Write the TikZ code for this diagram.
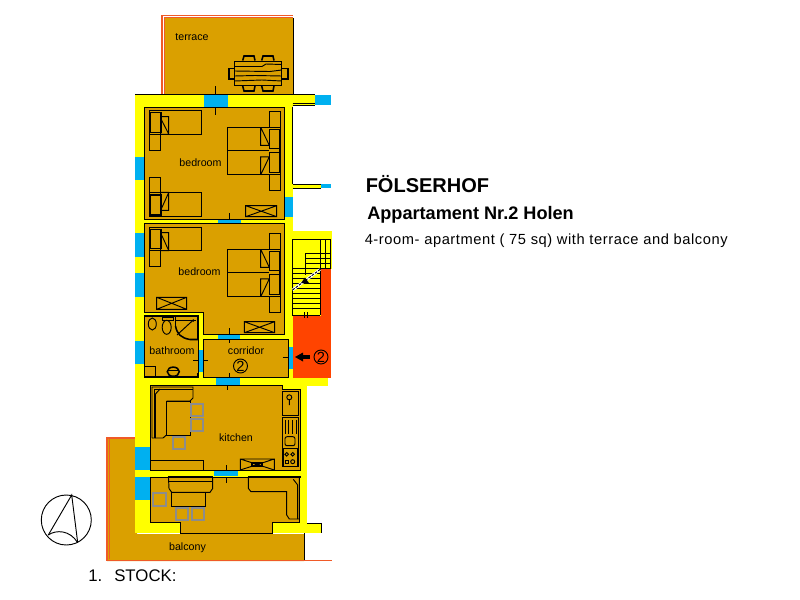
\documentclass[tikz,border=0pt]{standalone}
\usepackage{fontspec}
\setmainfont{Liberation Sans}
\newfontfamily\descfont[LetterSpace=4]{Liberation Sans}
\definecolor{gold}{HTML}{DAA000}
\definecolor{wall}{HTML}{FFFF00}
\definecolor{glass}{HTML}{00B0F0}
\definecolor{stairred}{HTML}{FF4400}
\definecolor{edge}{HTML}{F05A28}
\definecolor{chair}{HTML}{8C8C8C}
\tikzset{
  ln/.style={draw=black,line width=0.7pt},
  thk/.style={draw=black,line width=1.15pt},
  grayb/.style={draw=chair,line width=1.1pt},
  red2/.style={draw=edge,line width=0.8pt},
  room/.style={font=\fontsize{8}{8}\selectfont,anchor=base,inner sep=0pt},
  digit/.style={font=\fontsize{11}{11}\selectfont,anchor=base,inner sep=0pt},
  head/.style={anchor=base west,inner sep=0pt},
}
\newcommand{\xmark}[4]{\draw[ln] (#1,#2) rectangle (#3,#4) (#1,#2) -- (#3,#4) (#1,#4) -- (#3,#2);}
\newcommand{\doublebed}[1]{%
  \draw[ln] (227.3,#1) rectangle (280.3,#1+47.5);
  \draw[ln] (227.3,#1+23.5) -- (269.3,#1+23.5);
  \draw[thk] (269.3,#1+2) rectangle (280,#1+21);
  \draw[thk] (269.3,#1+25) rectangle (280,#1+45);
  \draw[ln] (260.7,#1) -- (260.7,#1+18) -- (269.3,#1+18) (260.7,#1) -- (269.3,#1+18);
  \draw[ln] (260.7,#1+47.5) -- (260.7,#1+29.5) -- (269.3,#1+29.5) (260.7,#1+47.5) -- (269.3,#1+29.5);
  \draw[thk] (280,#1+18) -- (280,#1+30);
  \draw[ln] (269.3,#1-16) rectangle (280.3,#1);
  \draw[ln] (269.3,#1+47.5) rectangle (280.3,#1+63);}
\begin{document}
\begin{tikzpicture}[x=0.75pt,y=-0.75pt]
\useasboundingbox (0,0) rectangle (800,600);
% ---------- outdoor areas
\fill[gold] (164,17) rectangle (293,95);
\fill[gold] (107,438) -- (137,438) -- (137,534) -- (304,534) -- (304,561) -- (107,561) -- cycle;
% ---------- walls
\fill[wall] (135,94.5) rectangle (292.5,386);
\fill[wall] (292,94.5) rectangle (316,105);
\fill[wall] (292,184) rectangle (321,188);
\fill[wall] (292,231) rectangle (331.5,269);
\fill[wall] (292,269) rectangle (321,316);
\fill[wall] (135,377) rectangle (328,386);
\fill[wall] (135,386) rectangle (307.3,533);
\fill[wall] (272,522.5) rectangle (321.5,533);
% ---------- red stair landing
\fill[stairred] (292.5,316) rectangle (331,377.5);
\fill[stairred] (321,269) rectangle (331,316);
% ---------- rooms
\path[fill=gold,ln] (144,107) -- (284,107) -- (284,219.5) -- (144,219.5) -- cycle;
\path[fill=gold,ln] (144,223) -- (284,223) -- (284,334) -- (203,334) -- (203,312) -- (144,312) -- cycle;
\path[fill=gold,ln] (144,316) rectangle (198,377);
\path[fill=gold,ln] (203,339) rectangle (288,377);
\path[fill=gold,ln] (150,385) -- (282,385) -- (282,389) -- (300.7,389) -- (300.7,470) -- (150,470) -- cycle;
\path[fill=gold,ln] (150,477) -- (299.5,477) -- (299.5,522.5) -- (272,522.5) -- (272,533) -- (180,533) -- (180,522.5) -- (150,522.5) -- cycle;
% ---------- windows and doors
\fill[glass] (204,94.5) rectangle (227.5,107);
\fill[glass] (315,94.5) rectangle (331,105);
\fill[glass] (321,184) rectangle (331,188);
\fill[glass] (135,157) rectangle (143.7,180);
\fill[glass] (284.5,197) rectangle (292.5,217);
\fill[glass] (218,219.5) rectangle (241,223);
\fill[glass] (135,233) rectangle (143.7,257);
\fill[glass] (135,273) rectangle (143.7,297);
\fill[glass] (135,341) rectangle (143.7,364);
\fill[glass] (218,334.5) rectangle (240,338.5);
\fill[glass] (198.5,350) rectangle (202.5,372);
\fill[glass] (288.5,347) rectangle (292.5,369);
\fill[glass] (216,377.5) rectangle (240,385);
\fill[glass] (135,447) rectangle (149.7,470);
\fill[glass] (135,477) rectangle (149.7,500);
\fill[glass] (214,470.5) rectangle (238,476);
% ---------- outdoor edges
\draw[red2] (162,94) -- (162,15.5) -- (293,15.5);
\draw[red2] (164.5,94) -- (164.5,17.5) -- (293,17.5);
\draw[ln] (293,18) -- (293,94);
\draw[ln] (135,94.5) -- (315,94.5);
\draw[ln] (292.5,107) -- (292.5,184) (292.5,188) -- (321,188) (292.5,184) -- (321,184);
\draw[ln] (292.5,103) -- (315,103) (292.5,105) -- (315,105);
\draw[red2,line width=1pt] (135,438) -- (107,438) -- (107,560.5) -- (332,560.5);
\draw[edge,line width=0.5pt] (109,438.5) -- (109,559);
\draw[ln] (304.3,533) -- (304.3,560);
\draw[ln] (307.3,523.3) -- (321.7,523.3) -- (321.7,533);
% ---------- door ticks
\draw[ln] (215.3,86) -- (215.3,94) (215.3,107) -- (215.3,115);
\draw[ln] (229.3,213) -- (229.3,219.5) (229.3,328) -- (229.3,334) (229.3,339) -- (229.3,343) (229.3,373) -- (229.3,377);
\draw[ln] (193,360.7) -- (198,360.7) (203,360.7) -- (208,360.7) (282.7,357) -- (288,357);
\draw[ln] (227.3,385) -- (227.3,390) (226.7,465) -- (226.7,470) (226.7,477) -- (226.7,483);
% ---------- terrace table
\draw[ln] (234.3,61) rectangle (281.7,85.7);
\draw[ln] (234.3,66.5) -- (262,66.5) -- (266,64) -- (281.7,64.5);
\draw[ln] (234.3,71) -- (270,71.5) -- (281.7,70);
\draw[ln] (234.3,76) -- (255,75.5) -- (281.7,76);
\draw[ln] (234.3,81) -- (262,80) -- (281.7,81);
\draw[thk] (242.7,60.5) -- (244,56) -- (254,56) -- (255,60.5);
\draw[thk] (261.7,60.5) -- (263,56) -- (273,56) -- (274,60.5);
\draw[thk] (242.7,86) -- (244,91) -- (254,91) -- (255,86);
\draw[thk] (261.7,86) -- (263,91) -- (273,91) -- (274,86);
\draw[thk] (234,68.5) -- (229,68.5) -- (229,79) -- (234,79);
\draw[thk] (282,68.5) -- (288,68.5) -- (288,79) -- (282,79);
% ---------- bedroom 1
\draw[ln] (149.3,110.3) rectangle (201.7,134.3);
\draw[thk] (150,112.3) rectangle (161,132.3);
\draw[ln] (160.7,116.7) rectangle (168.7,134.3) (160.7,118.3) -- (168.7,134);
\draw[ln] (149.3,134.3) rectangle (160,150.3);
\draw[ln] (149.3,192.3) rectangle (201.7,216.7);
\draw[thk] (150,195) rectangle (161,215);
\draw[ln] (160.7,192.3) rectangle (168.7,210.3) (160.7,210.3) -- (168.7,192.5);
\draw[ln] (149.3,177.3) rectangle (160,192.3);
\doublebed{127.3}
\xmark{245.7}{205.7}{276.7}{216.7}
% ---------- bedroom 2
\draw[ln] (149.3,227.3) rectangle (201.7,250.7);
\draw[thk] (150,229.3) rectangle (161,248.3);
\draw[ln] (160.7,232.7) rectangle (168.7,250.7) (160.7,233) -- (168.7,250.5);
\draw[ln] (149.3,250.7) rectangle (160,266);
\doublebed{249.3}
\xmark{156.7}{297.3}{186.7}{309.3}
\xmark{244.3}{321.7}{274.7}{332.7}
% ---------- stairs
\draw[ln] (292.5,239) -- (331,239) (292.5,239) -- (292.5,316);
\draw[ln] (320,239) -- (320,315) (325.3,239) -- (325.3,269) (330.7,239) -- (330.7,269);
\draw[ln] (305.7,253) -- (331,253) (305.7,258) -- (331,258) (305.7,263) -- (331,263) (305.7,253) -- (305.7,275);
\draw[thk] (292.5,268.5) -- (331,268.5);
\foreach \sy in {273,278,283,288,293,298,303,308,315} {\draw[ln] (292.5,\sy) -- (320,\sy);}
\draw[draw=white,line width=2pt] (292.5,290) -- (320,269.5);
\draw[ln,dash pattern=on 2pt off 1pt] (292.5,290) -- (320,269.5);
\fill[black] (305,277.5) -- (309,283) -- (301,283) -- cycle;
\draw[ln] (304,312) -- (304,318) (307.5,312) -- (307.5,318);
% ---------- bathroom
\draw[thk] (198,340) -- (198,316) -- (144.3,316) -- (144.3,377) -- (198,377) -- (198,373);
\draw[ln] (152.3,324) ellipse [x radius=4,y radius=6];
\draw[ln] (166.7,327.3) ellipse [x radius=4.5,y radius=7];
\draw[ln] (162.7,317) rectangle (173.3,320);
\draw[ln] (175,316.5) -- (175,326);
\draw[ln] (175,320) -- (196,320);
\draw[thk] (175.5,326) .. controls (177,334) and (181,338) .. (190,339.5) -- (198,339.5);
\draw[ln] (177,335) -- (193.3,320);
\fill[black] (193.3,320.5) circle (1.3);
\draw[thk] (144.5,366.7) -- (155.7,366.7) -- (155.7,376.7);
\draw[thk] (173.3,371.7) ellipse [x radius=6,y radius=4.6];
\draw[ln] (168,370.5) -- (179,370.5);
% ---------- entrance arrow and circled numbers
\draw[line width=3pt] (302,357) -- (310,357);
\fill[black] (295,357) -- (303,352.5) -- (303,361.5) -- cycle;
\draw[ln] (240.5,366) circle (7) (321,357) circle (7);
\node[digit] (twoa) at (240.5,371) {2};
\node[digit] (twob) at (321,362) {2};
% ---------- kitchen
\draw[ln] (152,438) -- (152,387) -- (193,387) -- (193,398) -- (190,401) -- (166.5,401);
\draw[ln] (154,438) -- (154,389) -- (193,389);
\draw[ln] (160,389) -- (155.5,394) -- (155.5,438);
\draw[ln] (152,438) -- (163,438) -- (166.5,435);
\draw[ln] (166.5,401) rectangle (190.5,435.5);
\draw[grayb] (191,404) rectangle (203,416);
\draw[grayb] (191,419) rectangle (203,431);
\draw[grayb] (173,437) rectangle (185,449);
\draw[ln] (150,460.7) -- (203.7,460.7) -- (203.7,470);
\draw[ln] (240.3,470) -- (240.3,459) -- (274.3,459) -- (274.3,470) (240.3,459) -- (274.3,470) (240.3,470) -- (274.3,459);
\draw[thk] (252,463) rectangle (262,466);
\draw[ln] (282.3,391) rectangle (298,415.7);
\draw[ln] (282.3,417) rectangle (298,448);
\draw[ln] (285,420) -- (285,434) (288.3,420) -- (288.3,434) (292,420) -- (292,434) (296,420) -- (296,434);
\draw[ln,rounded corners=1.5pt] (285,436.7) rectangle (295,445.7);
\draw[ln] (289.3,397.3) circle (2.5) (289.3,399.8) -- (289.3,405);
\draw[thk] (283,448.5) rectangle (298,466.5);
\draw[ln] (286.7,454.3) circle (1.8) (292.7,454.3) circle (1.8) (292.7,461.7) circle (2);
\draw[ln] (285.3,460.3) rectangle (288.1,463.1);
\draw[thk] (300.7,389) -- (300.7,470);
\draw[ln] (150,470) -- (300.7,470);
% ---------- living area
\draw[line width=1.4pt] (168,476.7) -- (213,476.7) (248,476.7) -- (300.7,476.7);
\draw[ln] (168.5,478) -- (169,488.5) -- (171.7,492.3) -- (210,492.3) -- (212.7,488.5) -- (212.7,478);
\draw[ln] (168.5,481) -- (212.7,481);
\draw[ln] (171.7,492.3) rectangle (205.7,506.3);
\draw[grayb] (153,493) rectangle (166,506);
\draw[grayb] (176,508) rectangle (188,520);
\draw[grayb] (192,508) rectangle (204,520);
\draw[ln] (248.3,478) -- (248.3,488.3) -- (251,491.7) -- (286.7,491.7) -- (286.7,515) -- (289.3,519) -- (299.3,519) -- (299.3,478);
\draw[ln] (293.3,479.3) -- (297.7,485) -- (297.7,519);
% ---------- compass
\draw[ln] (66.3,520) circle (25);
\draw[ln] (48.3,535) -- (71.7,495) -- (77.7,542.7);
\draw[ln] (48.3,535) .. controls (56,529.5) and (70,530) .. (77.7,542.7);
% ---------- room names
\node[room] (terrace) at (192,40) {terrace};
\node[room] (bedone) at (200.5,166) {bedroom};
\node[room] (bedtwo) at (199.5,275) {bedroom};
\node[room] (bath) at (172,354.5) {bathroom};
\node[room] (corr) at (246,354.5) {corridor};
\node[room] (kit) at (236,441.7) {kitchen};
\node[room] (balc) at (187.5,550.5) {balcony};
% ---------- headings
\node[head,font=\fontsize{15}{15}\selectfont\bfseries] (title) at (365.5,192.7) {FÖLSERHOF};
\node[head,font=\fontsize{13.6}{14}\selectfont\bfseries] (sub) at (367,219) {Appartament Nr.2 Holen};
\node[head,font=\fontsize{11}{11}\descfont] (desc) at (364.5,244) {4-room- apartment ( 75 sq) with terrace and balcony};
\node[head,font=\fontsize{12.6}{14}\selectfont] (stock) at (88,581) {1.\hspace{9pt}STOCK:};
\end{tikzpicture}
\end{document}
